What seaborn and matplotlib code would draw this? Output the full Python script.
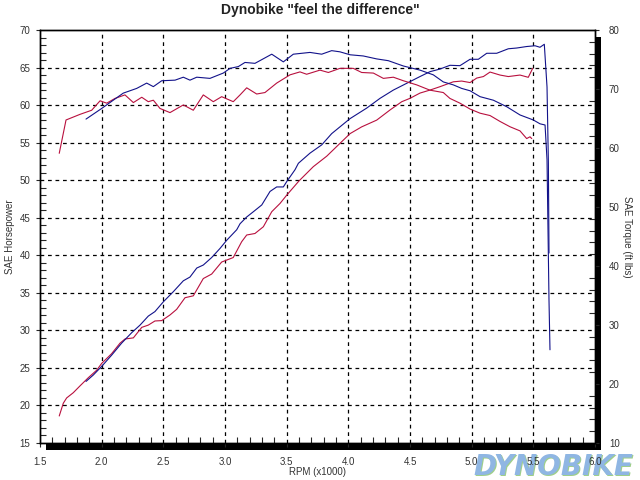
import numpy as np
import pandas as pd
import matplotlib
matplotlib.use("Agg")
import matplotlib.pyplot as plt
from matplotlib.patches import Rectangle
from matplotlib.ticker import MultipleLocator
import seaborn as sns

# ---- data (RPM x1000) ----
red_tq_rpm = [1.656, 1.711, 1.824, 1.919, 1.987, 2.041, 2.108, 2.189, 2.257, 2.325, 2.378, 2.419,
              2.473, 2.554, 2.662, 2.743, 2.824, 2.905, 2.973, 3.067, 3.122, 3.176, 3.257, 3.324,
              3.419, 3.527, 3.608, 3.662, 3.770, 3.838, 3.932, 4.040, 4.108, 4.203, 4.284, 4.365,
              4.446, 4.554, 4.662, 4.770, 4.824, 4.905, 4.987, 5.068, 5.149, 5.230, 5.311, 5.392,
              5.446, 5.473, 5.487]
red_tq = [59.1, 64.75, 65.7, 66.4, 68.0, 67.6, 68.4, 69.0, 67.7, 68.6, 67.85, 68.1,
          66.7, 66.0, 67.3, 66.4, 69.0, 67.85, 68.7, 67.85, 69.0, 70.2, 69.15, 69.4,
          71.0, 72.4, 72.9, 72.5, 73.2, 72.8, 73.5, 73.5, 72.8, 72.7, 71.8, 72.0,
          71.4, 70.7, 69.8, 69.4, 68.4, 67.6, 66.6, 65.9, 65.5, 64.5, 63.6, 62.9,
          61.6, 61.9, 61.6]

red_hp_rpm = [1.656, 1.689, 1.716, 1.770, 1.824, 1.892, 1.960, 2.000, 2.081, 2.149, 2.189, 2.257,
              2.325, 2.378, 2.432, 2.487, 2.554, 2.608, 2.676, 2.743, 2.824, 2.892, 2.973, 3.067,
              3.135, 3.176, 3.243, 3.311, 3.379, 3.446, 3.500, 3.600, 3.716, 3.825, 3.932, 4.014,
              4.108, 4.230, 4.338, 4.433, 4.500, 4.581, 4.662, 4.743, 4.851, 4.919, 4.987, 5.041,
              5.095, 5.149, 5.230, 5.297, 5.392, 5.459, 5.495]
red_hp = [18.6, 20.3, 21.0, 21.7, 22.6, 23.7, 24.7, 25.6, 26.9, 28.3, 28.85, 29.0,
          30.4, 30.7, 31.25, 31.3, 32.05, 32.8, 34.35, 34.6, 36.9, 37.5, 39.1, 39.7,
          41.8, 42.7, 42.9, 43.8, 45.8, 46.9, 48.0, 49.9, 51.8, 53.2, 54.9, 56.2,
          57.1, 58.0, 59.35, 60.45, 60.9, 61.6, 62.0, 62.45, 63.1, 63.2, 63.0, 63.6,
          63.8, 64.4, 64.0, 63.8, 64.0, 63.7, 64.9]

blue_tq_rpm = [1.873, 2.000, 2.094, 2.175, 2.284, 2.365, 2.419, 2.487, 2.595, 2.662, 2.716, 2.771,
               2.878, 2.986, 3.041, 3.108, 3.162, 3.243, 3.379, 3.473, 3.554, 3.689, 3.784, 3.865,
               3.932, 4.014, 4.121, 4.230, 4.324, 4.446, 4.581, 4.689, 4.770, 4.851, 4.919, 4.987,
               5.068, 5.176, 5.284, 5.392, 5.500, 5.554, 5.595, 5.611, 5.627, 5.635]
blue_tq = [64.9, 66.7, 68.1, 69.3, 70.1, 71.0, 70.4, 71.4, 71.5, 72.0, 71.5, 72.0,
           71.8, 72.7, 73.5, 73.8, 74.5, 74.35, 75.9, 74.6, 75.9, 76.2, 75.9, 76.5,
           76.3, 75.8, 75.6, 75.1, 74.8, 73.9, 73.2, 72.4, 71.2, 70.7, 70.1, 69.7,
           68.7, 68.1, 67.0, 65.6, 64.75, 64.1, 63.9, 58.0, 34.2, 25.8]

blue_hp_rpm = [1.873, 1.932, 2.000, 2.081, 2.162, 2.244, 2.311, 2.378, 2.432, 2.500, 2.581, 2.662,
               2.716, 2.771, 2.824, 2.892, 2.959, 3.014, 3.095, 3.122, 3.176, 3.230, 3.298, 3.365,
               3.419, 3.473, 3.500, 3.568, 3.595, 3.689, 3.784, 3.865, 3.932, 4.014, 4.149, 4.257,
               4.365, 4.473, 4.581, 4.662, 4.743, 4.824, 4.905, 4.987, 5.054, 5.122, 5.203, 5.297,
               5.365, 5.446, 5.514, 5.554, 5.589, 5.611, 5.622, 5.627]
blue_hp = [23.2, 24.05, 25.2, 26.7, 28.3, 29.7, 30.7, 31.9, 32.5, 33.8, 35.15, 36.6,
           37.1, 38.3, 38.7, 39.7, 40.9, 42.0, 43.4, 44.2, 45.1, 45.8, 46.7, 48.5,
           49.1, 49.1, 49.8, 51.4, 52.25, 53.6, 54.7, 56.2, 57.1, 58.2, 59.6, 60.9,
           62.0, 62.9, 63.8, 64.45, 64.8, 65.3, 65.25, 66.1, 66.1, 66.9, 66.9, 67.5,
           67.6, 67.8, 67.9, 67.7, 68.1, 62.4, 52.3, 40.3]

x_ticks = [1.5, 2.0, 2.5, 3.0, 3.5, 4.0, 4.5, 5.0, 5.5, 6.0]
hp_ticks = [15, 20, 25, 30, 35, 40, 45, 50, 55, 60, 65, 70]
tq_ticks = [10, 20, 30, 40, 50, 60, 70, 80]

RED = "#b8103e"
BLUE = "#12128a"

sns.set_style("white")
plt.rcParams['font.family'] = ['Liberation Sans', 'DejaVu Sans']

fig = plt.figure(figsize=(6.4, 4.8), dpi=100, facecolor="white")
W, H = 640, 480
L, R, T, B = 40, 595, 30, 443
ax = fig.add_axes([L / W, 1 - B / H, (R - L) / W, (B - T) / H])

# drop shadow of plot box
shadow = Rectangle(((L + 6) / W, 1 - (B + 7) / H), (R - L) / W, (B - T) / H,
                   transform=fig.transFigure, facecolor="black", edgecolor="none", zorder=0)
fig.patches.append(shadow)
ax.set_zorder(1)
ax.set_facecolor("white")

LW = 0.8
df_rhp = pd.DataFrame({"rpm": red_hp_rpm, "val": red_hp})
df_bhp = pd.DataFrame({"rpm": blue_hp_rpm, "val": blue_hp})
sns.lineplot(data=df_rhp, x="rpm", y="val", ax=ax, color=RED, lw=LW, estimator=None)
sns.lineplot(data=df_bhp, x="rpm", y="val", ax=ax, color=BLUE, lw=LW, estimator=None)

ax.set_xlim(1.5, 6.0)
ax.set_ylim(15, 70)
ax.set_xticks(x_ticks)
ax.set_xticklabels([f"{v:.1f}" for v in x_ticks])
ax.set_yticks(hp_ticks)
ax.set_yticklabels([str(v) for v in hp_ticks])
ax.xaxis.set_minor_locator(MultipleLocator(0.1))
ax.yaxis.set_minor_locator(MultipleLocator(1))
for x in x_ticks[1:-1]:
    ax.axvline(x, color="black", ls=(0, (3, 3)), lw=0.9, zorder=0.5)
for y in hp_ticks[1:-1]:
    ax.axhline(y, color="black", ls=(0, (3, 3)), lw=0.9, zorder=0.5)

ax2 = ax.twinx()
df_rtq = pd.DataFrame({"rpm": red_tq_rpm, "val": red_tq})
df_btq = pd.DataFrame({"rpm": blue_tq_rpm, "val": blue_tq})
sns.lineplot(data=df_rtq, x="rpm", y="val", ax=ax2, color=RED, lw=LW, estimator=None)
sns.lineplot(data=df_btq, x="rpm", y="val", ax=ax2, color=BLUE, lw=LW, estimator=None)
ax2.set_ylim(10, 80)
ax2.set_yticks(tq_ticks)
ax2.set_yticklabels([str(v) for v in tq_ticks])
ax2.yaxis.set_minor_locator(MultipleLocator(2))
ax2.set_xlim(1.5, 6.0)

for a in (ax, ax2):
    for s in a.spines.values():
        s.set_color("black")
        s.set_linewidth(1.0)

ax.tick_params(axis="x", which="major", direction="out", length=3, width=0.8, pad=7,
               labelsize=7, labelcolor="#333333", bottom=True)
ax.tick_params(axis="x", which="minor", direction="in", length=4, width=0.8, bottom=True)
ax.tick_params(axis="y", which="major", direction="out", length=3, width=0.8, pad=4,
               labelsize=7, labelcolor="#333333", left=True)
ax.tick_params(axis="y", which="minor", direction="in", length=4, width=0.8, left=True)
ax2.tick_params(axis="y", which="major", direction="out", length=3, width=0.8, pad=7,
                labelsize=7, labelcolor="#333333", right=True)
ax2.tick_params(axis="y", which="minor", direction="in", length=4, width=0.8, right=True)

ax.set_xlabel("RPM (x1000)", fontsize=7, color="#333333", labelpad=0)
ax.set_ylabel("SAE Horsepower", fontsize=7, color="#333333", labelpad=3)
ax2.set_ylabel("SAE Torque (ft lbs)", fontsize=7, color="#333333", rotation=270, labelpad=9)

fig.text(0.5, 1 - 10 / H, 'Dynobike "feel the difference"', ha="center", va="center",
         fontsize=10, fontweight="bold", family=["Liberation Sans Narrow", "Liberation Sans", "DejaVu Sans"],
         color="#222222")

# watermark
fig.text(553 / W + 0.002, 1 - 467 / H - 0.003, "DYNOBIKE", ha="center", va="center", fontsize=20,
         fontweight="heavy", fontstyle="italic", color="#9fcf8a", zorder=-2,
         family=["DejaVu Sans"])
fig.text(553 / W, 1 - 467 / H, "DYNOBIKE", ha="center", va="center", fontsize=20,
         fontweight="heavy", fontstyle="italic", color="#8fb6e3", zorder=-1,
         family=["DejaVu Sans"])

fig.savefig("out.png", dpi=100, facecolor="white")
